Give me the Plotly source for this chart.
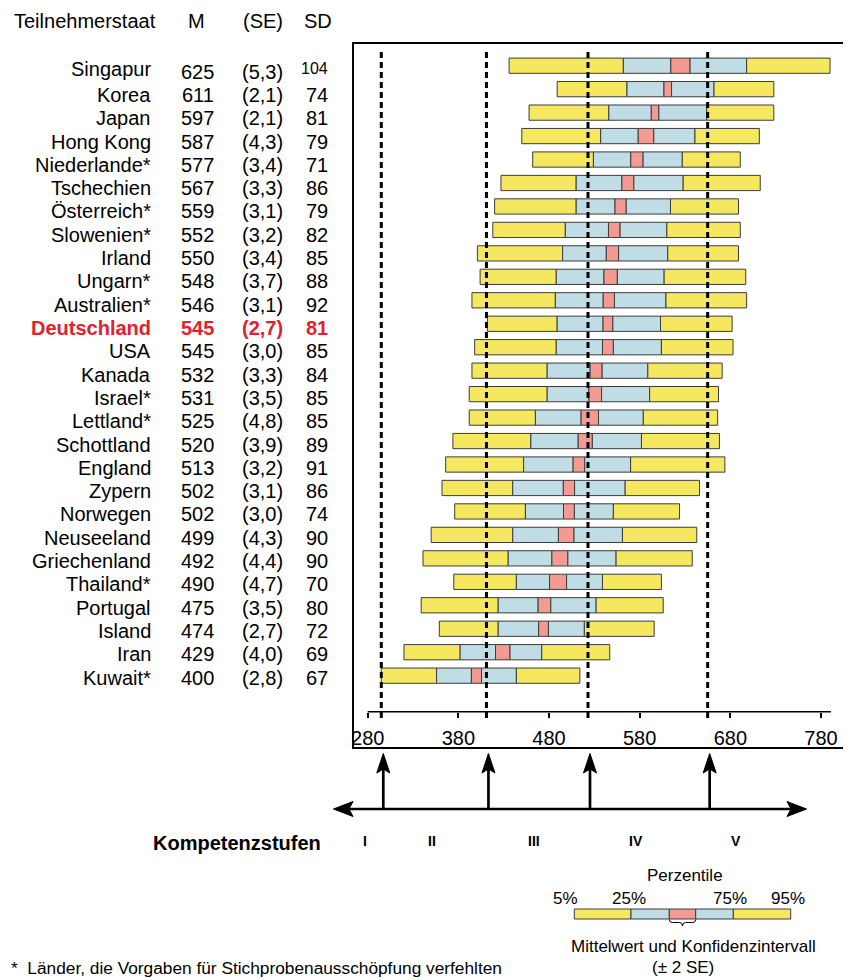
import plotly.graph_objects as go

# ---------------- data ----------------
countries = ["Singapur", "Korea", "Japan", "Hong Kong", "Niederlande*", "Tschechien",
             "Österreich*", "Slowenien*", "Irland", "Ungarn*", "Australien*", "Deutschland",
             "USA", "Kanada", "Israel*", "Lettland*", "Schottland", "England", "Zypern",
             "Norwegen", "Neuseeland", "Griechenland", "Thailand*", "Portugal", "Island",
             "Iran", "Kuwait*"]
M = [625, 611, 597, 587, 577, 567, 559, 552, 550, 548, 546, 545, 545, 532, 531, 525,
     520, 513, 502, 502, 499, 492, 490, 475, 474, 429, 400]
SE = [5.3, 2.1, 2.1, 4.3, 3.4, 3.3, 3.1, 3.2, 3.4, 3.7, 3.1, 2.7, 3.0, 3.3, 3.5, 4.8,
      3.9, 3.2, 3.1, 3.0, 4.3, 4.4, 4.7, 3.5, 2.7, 4.0, 2.8]
SD = [104, 74, 81, 79, 71, 86, 79, 82, 85, 88, 92, 81, 85, 84, 85, 85, 89, 91, 86, 74,
      90, 90, 70, 80, 72, 69, 67]
P5 = [436, 489, 458, 450, 462, 427, 420, 418, 401, 404, 395, 412, 398, 395, 392, 392,
      374, 366, 362, 376, 350, 341, 375, 339, 359, 320, 295]
P25 = [562, 566, 546, 537, 529, 510, 510, 498, 495, 488, 487, 489, 488, 478, 478, 465,
       460, 452, 440, 454, 440, 435, 444, 424, 424, 382, 356]
P75 = [698, 662, 654, 641, 627, 628, 614, 610, 611, 607, 609, 603, 604, 589, 591, 584,
       582, 570, 564, 551, 561, 554, 539, 532, 519, 472, 444]
P95 = [790, 728, 728, 712, 691, 713, 689, 691, 689, 697, 698, 682, 683, 671, 667, 666,
       668, 674, 646, 624, 643, 638, 604, 606, 596, 547, 514]
highlight = "Deutschland"
thresholds = [295, 411, 523, 655]
levels = ["I", "II", "III", "IV", "V"]
tick_vals = [280, 380, 480, 580, 680, 780]
legend_pct = ["5%", "25%", "75%", "95%"]

# ---------------- styles ----------------
YEL = "#F5E860"
BLU = "#C0DCE5"
RED = "#F39B93"
EDGE = "#3C3C3C"
HRED = "#E3202C"
FONT = "Liberation Sans, Arial, Helvetica, sans-serif"

# page has an 8px body margin -> figure drawn at (8, 8)
OFF = 8
W, H = 851 - OFF, 980 - OFF
PL, PR, PT, PB = 353, 846, 43, 748          # plot-area edges in page pixels
ML, MR, MT, MB = PL - OFF, W - (PR - OFF), PT - OFF, H - (PB - OFF)
PW, PH = PR - PL, PB - PT


def X(px):
    return (px - PL) / PW


def Y(py):
    return (PB - py) / PH


n = len(countries)
rows = list(range(n))
lo = [m - 2 * s for m, s in zip(M, SE)]
hi = [m + 2 * s for m, s in zip(M, SE)]

segments = [
    (P5, [b - a for a, b in zip(P5, P25)], YEL),
    (P25, [b - a for a, b in zip(P25, lo)], BLU),
    (lo, [b - a for a, b in zip(lo, hi)], RED),
    (hi, [b - a for a, b in zip(hi, P75)], BLU),
    (P75, [b - a for a, b in zip(P75, P95)], YEL),
]

fig = go.Figure()
for base, width, col in segments:
    fig.add_trace(go.Bar(
        y=rows, x=width, base=base, orientation="h", width=0.65,
        marker=dict(color=col, line=dict(color=EDGE, width=1)),
        hoverinfo="skip", showlegend=False))

shapes = []
annotations = []

# frame
shapes.append(dict(type="rect", xref="paper", yref="paper", x0=0, x1=1, y0=0, y1=1,
                   line=dict(color="black", width=2), layer="above"))
# axis line
ax_y = Y(711.7)
shapes.append(dict(type="line", xref="x", yref="paper", x0=tick_vals[0], x1=791,
                   y0=ax_y, y1=ax_y, line=dict(color="black", width=1.5)))
# dashed threshold lines
for t in thresholds:
    shapes.append(dict(type="line", xref="x", yref="paper", x0=t, x1=t,
                       y0=Y(718), y1=Y(48), line=dict(color="black", width=3, dash="6px,4px"),
                       layer="above"))

# arrows below chart
kx = 0.9066  # px per unit
hw = 6.5 / kx
for t in thresholds:
    c = t + 2 / kx
    shapes.append(dict(type="line", xref="x", yref="paper", x0=c, x1=c,
                       y0=Y(809), y1=Y(768), line=dict(color="black", width=2.7)))
    shapes.append(dict(type="path", xref="x", yref="paper",
                       path=f"M {c-hw},{Y(773)} L {c},{Y(753.5)} L {c+hw},{Y(773)} L {c},{Y(769)} Z",
                       fillcolor="black", line=dict(color="black", width=1)))
# horizontal double arrow
shapes.append(dict(type="line", xref="paper", yref="paper", x0=X(345), x1=X(796),
                   y0=Y(809), y1=Y(809), line=dict(color="black", width=2.7)))
shapes.append(dict(type="path", xref="paper", yref="paper",
                   path=f"M {X(353)},{Y(801.5)} L {X(333.5)},{Y(809)} L {X(353)},{Y(816.5)} L {X(349)},{Y(809)} Z",
                   fillcolor="black", line=dict(color="black", width=1)))
shapes.append(dict(type="path", xref="paper", yref="paper",
                   path=f"M {X(787)},{Y(801.5)} L {X(806.5)},{Y(809)} L {X(787)},{Y(816.5)} L {X(791)},{Y(809)} Z",
                   fillcolor="black", line=dict(color="black", width=1)))

# legend bar
leg_edges = [574.3, 631, 669.3, 695.7, 733.3, 790.7]
leg_cols = [YEL, BLU, RED, BLU, YEL]
for i, col in enumerate(leg_cols):
    shapes.append(dict(type="rect", xref="paper", yref="paper",
                       x0=X(leg_edges[i]), x1=X(leg_edges[i + 1]), y0=Y(919), y1=Y(909),
                       fillcolor=col, line=dict(color=EDGE, width=1)))
# brace
b0, b1 = leg_edges[2], leg_edges[3]
bm = (b0 + b1) / 2
shapes.append(dict(type="path", xref="paper", yref="paper",
                   path=(f"M {X(b0)},{Y(919.5)} Q {X(b0)},{Y(922.5)} {X(b0+3)},{Y(922.5)} "
                         f"L {X(bm-3)},{Y(922.5)} Q {X(bm)},{Y(922.5)} {X(bm)},{Y(926)} "
                         f"Q {X(bm)},{Y(922.5)} {X(bm+3)},{Y(922.5)} "
                         f"L {X(b1-3)},{Y(922.5)} Q {X(b1)},{Y(922.5)} {X(b1)},{Y(919.5)}"),
                   line=dict(color="black", width=1)))


def txt(s, px, py, size=20, anchor="center", bold=False, color="black"):
    if bold:
        s = f"<b>{s}</b>"
    annotations.append(dict(text=s, xref="paper", yref="paper", x=X(px), y=Y(py),
                            xanchor=anchor, yanchor="middle", showarrow=False,
                            font=dict(family=FONT, size=size, color=color)))


# header
txt("Teilnehmerstaat", 12, 20.7, anchor="left")
txt("M", 196, 20.7)
txt("(SE)", 262.5, 20.7)
txt("SD", 317.5, 20.7)

# table rows
for i in rows:
    ty = 95 + (i - 1) * 23.3 if i > 0 else 69
    ty_num = ty if i > 0 else 71.5
    hl = countries[i] == highlight
    col = HRED if hl else "black"
    txt(countries[i], 153, ty, anchor="right", bold=hl, color=col)
    txt(str(M[i]), 197.5, ty_num, bold=hl, color=col)
    txt(f"({SE[i]:.1f})".replace(".", ","), 262.5, ty_num, bold=hl, color=col)
    if SD[i] >= 100:
        txt(str(SD[i]), 329.5, ty - 0.5, size=16, anchor="right", bold=hl, color=col)
    else:
        txt(str(SD[i]), 329.5, ty, anchor="right", bold=hl, color=col)

# Kompetenzstufen
txt("Kompetenzstufen", 323, 842.7, anchor="right", bold=True)
for lab, px in zip(levels, [365, 431.6, 533.5, 636, 735.6]):
    txt(lab, px, 840.8, size=14, bold=True)

# legend texts
txt("Perzentile", 685, 875.8, size=17)
for lab, px in zip(legend_pct, [565.7, 629.3, 729.7, 788]):
    txt(lab, px, 898.3, size=17)
txt("Mittelwert und Konfidenzintervall", 693.8, 946.7, size=17)
txt("(± 2 SE)", 683.3, 967.5, size=17)

# footnote
txt("*  Länder, die Vorgaben für Stichprobenausschöpfung verfehlten".replace("  ", "\u00a0 "),
    8.5, 967.5, size=17.3, anchor="left")

fig.update_layout(
    width=W, height=H,
    margin=dict(l=ML, r=MR, t=MT, b=MB, pad=0),
    paper_bgcolor="white", plot_bgcolor="white",
    barmode="overlay", showlegend=False,
    shapes=shapes, annotations=annotations,
    xaxis=dict(range=[263.8, 807.6], tickvals=tick_vals, ticks="outside", ticklen=5,
               tickwidth=1.5, tickcolor="black", showgrid=False, zeroline=False,
               showline=False, anchor="free", position=ax_y, ticklabelstandoff=3,
               tickfont=dict(family=FONT, size=20, color="black"), fixedrange=True),
    yaxis=dict(range=[29.084, -0.9676], visible=False, fixedrange=True),
    font=dict(family=FONT),
)

fig.write_html("out.html")
